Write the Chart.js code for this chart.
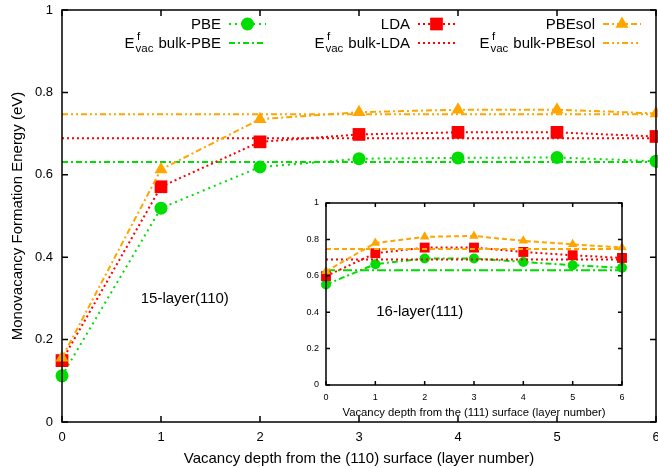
<!DOCTYPE html>
<html>
<head>
<meta charset="utf-8">
<script src="https://cdn.jsdelivr.net/npm/chart.js@4/dist/chart.umd.min.js"></script>
<style>
  html, body { margin: 0; padding: 0; background: #fff; }
  #wrap { position: relative; width: 658px; height: 468px; }
  #main { position: absolute; left: 0; top: 0; }
  #inset { position: absolute; left: 290px; top: 190px; }
</style>
</head>
<body>
<div id="wrap">
  <canvas id="main" width="658" height="468"></canvas>
  <canvas id="inset" width="366" height="230"></canvas>
</div>
<script>
// ------------------ DATA ------------------
const layers = [0, 1, 2, 3, 4, 5, 6];

// 15-layer (110) slab
const pbe110 = [0.112, 0.519, 0.619, 0.639, 0.641, 0.642, 0.633];
const lda110 = [0.149, 0.571, 0.680, 0.698, 0.703, 0.703, 0.693];
const pbesol110 = [0.156, 0.613, 0.735, 0.752, 0.758, 0.758, 0.749];

// 16-layer (111) slab (inset)
const pbe111 = [0.552, 0.664, 0.695, 0.695, 0.676, 0.658, 0.644];
const lda111 = [0.598, 0.724, 0.755, 0.755, 0.731, 0.713, 0.698];
const pbesol111 = [0.625, 0.780, 0.814, 0.819, 0.792, 0.773, 0.755];

// bulk vacancy formation energies
const bulkPBE = 0.631;
const bulkLDA = 0.689;
const bulkPBEsol = 0.747;

const yTickValues = [0, 0.2, 0.4, 0.6, 0.8, 1];

const GREEN = '#00dd00';
const RED = '#ff0000';
const ORANGE = '#ffa500';
const FONT = '"Liberation Sans", Arial, Helvetica, sans-serif';

Chart.defaults.font.family = FONT;
Chart.defaults.color = '#000';

// ------------------ HELPERS ------------------
function series(label, ys, color, dash, style, r, order) {
    return {
        label: label,
        data: layers.map((x, i) => ({ x: x, y: ys[i] })),
        borderColor: color,
        backgroundColor: color,
        borderDash: dash,
        borderWidth: 2,
        pointStyle: style,
        pointRadius: r,
        pointBorderWidth: 0,
        tension: 0,
        clip: false,
        order: order
    };
}

function bulkLine(label, value, color, dash, order) {
    return {
        label: label,
        data: [{ x: layers[0], y: value }, { x: layers[layers.length - 1], y: value }],
        borderColor: color,
        backgroundColor: color,
        borderDash: dash,
        borderWidth: 2,
        pointRadius: 0,
        clip: false,
        order: order
    };
}

function tickText(v) { return String(+v.toFixed(1)); }

// no extra room for edge tick labels, chart area is fixed by layout padding
function noEdgePad(s) {
    s.paddingLeft = 0; s.paddingRight = 0;
    s.paddingTop = 0; s.paddingBottom = 0;
}

// inward ticks on all four sides + box
const frame = {
    id: 'frame',
    afterDatasetsDraw(chart, args, opts) {
        const { ctx, chartArea: a, scales: { x, y } } = chart;
        ctx.save();
        ctx.strokeStyle = '#000';
        ctx.lineWidth = opts.lw;
        ctx.setLineDash([]);
        ctx.beginPath();
        x.ticks.forEach(t => {
            const px = x.getPixelForValue(t.value);
            ctx.moveTo(px, a.bottom); ctx.lineTo(px, a.bottom - opts.len);
            ctx.moveTo(px, a.top); ctx.lineTo(px, a.top + opts.len);
        });
        yTickValues.forEach(v => {
            const py = y.getPixelForValue(v);
            ctx.moveTo(a.left, py); ctx.lineTo(a.left + opts.len, py);
            ctx.moveTo(a.right, py); ctx.lineTo(a.right - opts.len, py);
        });
        ctx.stroke();
        ctx.strokeRect(a.left, a.top, a.right - a.left, a.bottom - a.top);
        ctx.restore();
    }
};

// text label placed in data coordinates
const note = {
    id: 'note',
    afterDraw(chart, args, opts) {
        const { ctx, scales: { x, y } } = chart;
        ctx.save();
        ctx.font = opts.size + 'px ' + FONT;
        ctx.fillStyle = '#000';
        ctx.textAlign = 'center';
        ctx.textBaseline = 'middle';
        ctx.fillText(opts.text, x.getPixelForValue(opts.x), y.getPixelForValue(opts.y));
        ctx.restore();
    }
};

// gnuplot style key: text right-aligned, sample to the right
const keyCols = [
    { right: 221, x0: 229, x1: 266 },
    { right: 410, x0: 418, x1: 455 },
    { right: 595, x0: 603, x1: 641 }
];
const keyRows = [24, 43];

function drawEvac(ctx, right, base, rest) {
    ctx.font = '15px ' + FONT;
    const wE = ctx.measureText('E').width;
    const wRest = ctx.measureText(rest).width;
    ctx.font = '11.5px ' + FONT;
    const wSub = ctx.measureText('vac').width;
    let x = right - wRest - wSub - wE - 6;
    ctx.textAlign = 'left';
    ctx.font = '15px ' + FONT;
    ctx.fillText('E', x, base);
    x += wE + 1;
    ctx.font = '11.5px ' + FONT;
    ctx.fillText('f', x + 1.5, base - 8);
    ctx.fillText('vac', x, base + 4);
    x += wSub + 5;
    ctx.font = '15px ' + FONT;
    ctx.fillText(rest, x, base);
}

const keyLegend = {
    id: 'keyLegend',
    afterDraw(chart) {
        const ctx = chart.ctx;
        const sets = chart.data.datasets;
        ctx.save();
        keyCols.forEach((c, i) => {
            const ds = sets[i * 2];
            const bk = sets[i * 2 + 1];
            ctx.font = '15px ' + FONT;
            ctx.textAlign = 'right';
            ctx.textBaseline = 'alphabetic';
            ctx.fillStyle = '#000';
            ctx.fillText(ds.label, c.right, keyRows[0] + 5);
            drawEvac(ctx, c.right, keyRows[1] + 5, bk.label);
            // samples
            [ds, bk].forEach((d, r) => {
                const yy = keyRows[r];
                ctx.strokeStyle = d.borderColor;
                ctx.lineWidth = d.borderWidth;
                ctx.setLineDash(d.borderDash);
                ctx.beginPath();
                ctx.moveTo(c.x0, yy);
                ctx.lineTo(c.x1, yy);
                ctx.stroke();
                if (d.pointRadius > 0) {
                    ctx.setLineDash([]);
                    ctx.fillStyle = d.backgroundColor;
                    Chart.helpers.drawPoint(ctx, { pointStyle: d.pointStyle, radius: d.pointRadius, rotation: 0, borderWidth: 0 }, (c.x0 + c.x1) / 2, yy);
                    ctx.fillStyle = '#000';
                }
            });
        });
        ctx.restore();
    }
};

// ------------------ MAIN CHART ------------------
const mainSets = [
    series('PBE', pbe110, GREEN, [2, 4], 'circle', 6.5, 6),
    bulkLine('bulk-PBE', bulkPBE, GREEN, [6, 3, 2, 3], 5),
    series('LDA', lda110, RED, [2, 3], 'rect', 9, 4),
    bulkLine('bulk-LDA', bulkLDA, RED, [2, 3], 3),
    series('PBEsol', pbesol110, ORANGE, [6, 3, 2, 3], 'triangle', 7.5, 2),
    bulkLine('bulk-PBEsol', bulkPBEsol, ORANGE, [6, 3, 2, 3, 2, 3], 1)
];

new Chart(document.getElementById('main'), {
    type: 'line',
    data: { datasets: mainSets },
    options: {
        responsive: false,
        animation: false,
        events: [],
        layout: { autoPadding: false, padding: { top: 10, right: 2, left: 0, bottom: 0 } },
        plugins: {
            legend: { display: false },
            tooltip: { enabled: false },
            frame: { len: 6, lw: 1.5 },
            note: { text: '15-layer(110)', x: 1.24, y: 0.30, size: 15 }
        },
        scales: {
            x: {
                type: 'linear', min: 0, max: 6,
                ticks: { stepSize: 1, padding: 8, font: { size: 13 }, color: '#000' },
                grid: { display: false, drawTicks: false },
                border: { display: false },
                title: { display: true, text: 'Vacancy depth from the (110) surface (layer number)', font: { size: 15 }, color: '#000', padding: { top: 1, bottom: 0 } },
                afterFit: s => { s.height = 46; noEdgePad(s); }
            },
            y: {
                type: 'linear', min: 0, max: 1,
                ticks: { stepSize: 0.2, padding: 9, font: { size: 13 }, color: '#000', callback: tickText },
                grid: { display: false, drawTicks: false },
                border: { display: false },
                title: { display: true, text: 'Monovacancy Formation Energy (eV)', font: { size: 15 }, color: '#000', padding: { top: 9, bottom: 0 } },
                afterFit: s => { s.width = 62; noEdgePad(s); }
            }
        }
    },
    plugins: [frame, note, keyLegend]
});

// ------------------ INSET ------------------
const insetSets = [
    series('PBE', pbe111, GREEN, [6, 3, 2, 3], 'circle', 5, 6),
    bulkLine('bulk-PBE', bulkPBE, GREEN, [9, 3, 2, 3], 5),
    series('LDA', lda111, RED, [2, 3], 'rect', 7, 4),
    bulkLine('bulk-LDA', bulkLDA, RED, [2, 3], 3),
    series('PBEsol', pbesol111, ORANGE, [5, 3], 'triangle', 5.5, 2),
    bulkLine('bulk-PBEsol', bulkPBEsol, ORANGE, [5, 3], 1)
];

new Chart(document.getElementById('inset'), {
    type: 'line',
    data: { datasets: insetSets },
    options: {
        responsive: false,
        animation: false,
        events: [],
        layout: { autoPadding: false, padding: { top: 13, right: 34, left: 0, bottom: 0 } },
        plugins: {
            legend: { display: false },
            tooltip: { enabled: false },
            frame: { len: 4, lw: 1.5 },
            note: { text: '16-layer(111)', x: 1.9, y: 0.4, size: 15 }
        },
        scales: {
            x: {
                type: 'linear', min: 0, max: 6,
                ticks: { stepSize: 1, padding: 7, font: { size: 9 }, color: '#000' },
                grid: { display: false, drawTicks: false },
                border: { display: false },
                title: { display: true, text: 'Vacancy depth from the (111) surface (layer number)', font: { size: 11.3 }, color: '#000', padding: { top: 4.5, bottom: 0 } },
                afterFit: s => { s.height = 35; noEdgePad(s); }
            },
            y: {
                type: 'linear', min: 0, max: 1,
                ticks: { stepSize: 0.2, padding: 7, font: { size: 9 }, color: '#000', callback: tickText },
                grid: { display: false, drawTicks: false },
                border: { display: false },
                afterFit: s => { s.width = 36; noEdgePad(s); }
            }
        }
    },
    plugins: [frame, note]
});
</script>
</body>
</html>
